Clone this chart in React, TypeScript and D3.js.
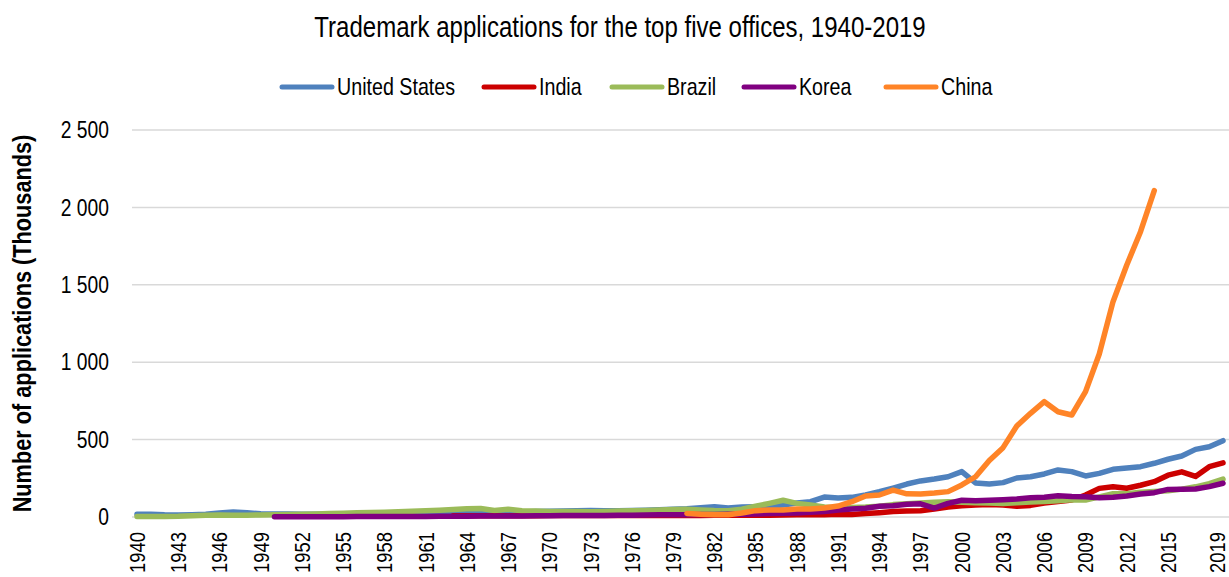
import React from "react";
import * as d3 from "d3";

// years on the category axis
const years = d3.range(1940, 2020);

// trademark applications, thousands (null = no data)
const unitedStates = [
  18, 17, 14, 13, 15, 18, 26, 32, 27, 21,
  20, 19, 18, 17, 18, 19, 20, 20, 21, 22,
  22, 23, 24, 25, 26, 28, 30, 32, 33, 35,
  37, 38, 40, 42, 41, 40, 42, 44, 47, 50,
  54, 60, 67, 58, 64, 67, 71, 78, 90, 99,
  129, 122, 127, 142, 163, 187, 213, 233, 245, 260,
  293, 220, 213, 222, 252, 260, 278, 304, 293, 265,
  282, 308, 316, 325, 347, 373, 394, 437, 454, 493,
];

const india = [
  null, null, null, null, null, null, null, null, null, null,
  null, null, null, null, null, null, null, null, null, null,
  null, null, null, 8, 8, 8, 8, 8, 8, 8,
  9, 9, 9, 9, 9, 9, 10, 10, 10, 10,
  10, 10, 11, 11, 11, 12, 12, 13, 14, 14,
  15, 17, 16, 22, 28, 35, 39, 41, 52, 65,
  72, 78, 80, 77, 70, 75, 90, 100, 110, 142,
  185, 196, 186, 205, 228, 270, 292, 262, 325, 350,
];

const brazil = [
  3, 3, 4, 5, 8, 11, 13, 12, 12, 13,
  15, 16, 18, 20, 22, 25, 27, 29, 31, 34,
  37, 40, 44, 48, 53, 55, 42, 50, 40, 38,
  36, 35, 35, 34, 36, 38, 40, 42, 45, 48,
  50, 46, 42, 40, 50, 70, 88, 108, 88, 78,
  65, 60, 62, 65, 70, 80, 85, 90, 95, 98,
  95, 92, 90, 88, 92, 97, 100, 105, 112, 110,
  130, 150, 150, 160, 165, 170, 180, 195, 215, 245,
];

const korea = [
  null, null, null, null, null, null, null, null, null, null,
  1, 1, 1, 2, 2, 2, 3, 3, 3, 4,
  4, 4, 5, 5, 5, 6, 6, 7, 7, 8,
  8, 9, 9, 10, 10, 11, 12, 13, 14, 15,
  15, 16, 16, 17, 18, 20, 22, 24, 26, 30,
  35, 45, 52, 57, 70, 72, 82, 85, 58, 88,
  108, 105, 108, 112, 117, 124, 128, 137, 132, 131,
  124, 128, 136, 148, 157, 178, 180, 181, 196, 218,
];

const china = [
  null, null, null, null, null, null, null, null, null, null,
  null, null, null, null, null, null, null, null, null, null,
  null, null, null, null, null, null, null, null, null, null,
  null, null, null, null, null, null, null, null, null, null,
  23, 17, 14, 14, 26, 41, 45, 45, 52, 52,
  58, 71, 99, 136, 142, 174, 150, 148, 155, 164,
  207, 260, 365, 448, 588, 670, 745, 680, 659, 810,
  1053, 1391, 1628, 1843, 2108, null, null, null, null, null,
];

const seriesNames = ["United States", "India", "Brazil", "Korea", "China"];
const seriesColors = ["#4F81BD", "#CC0000", "#9BBB59", "#800080", "#FF8427"];
const seriesValues = [unitedStates, india, brazil, korea, china];

const yTicks = [0, 500, 1000, 1500, 2000, 2500];
const xTickYears = [
  1940, 1943, 1946, 1949, 1952, 1955, 1958, 1961, 1964, 1967, 1970, 1973, 1976,
  1979, 1982, 1985, 1988, 1991, 1994, 1997, 2000, 2003, 2006, 2009, 2012, 2015,
  2019,
];

const W = 1229;
const H = 577;
// Arial-metric font squeezed horizontally to look like Arial Narrow
const FONT = "'Liberation Sans', Arial, sans-serif";
const NARROW = 0.82;

const x = d3.scaleLinear().domain([1940, 2019]).range([137, 1223]);
const y = d3.scaleLinear().domain([0, 2500]).range([517, 130]);

const fmt = d3.formatLocale({
  decimal: ".",
  thousands: " ",
  grouping: [3],
  currency: ["", ""],
}).format(",");

const line = d3
  .line<number | null>()
  .defined((v) => v != null)
  .x((_, i) => x(years[i]))
  .y((v) => y(v as number));

const legendX = [280, 482, 610, 742, 884];

function NText(props: {
  x: number;
  y: number;
  rotate?: number;
  size: number;
  anchor?: string;
  bold?: boolean;
  children: React.ReactNode;
}) {
  const { x: tx, y: ty, rotate = 0, size, anchor = "start", bold, children } = props;
  return (
    <text
      transform={`translate(${tx},${ty}) rotate(${rotate}) scale(${NARROW},1)`}
      dy="0.35em"
      textAnchor={anchor}
      fontSize={size}
      fontWeight={bold ? "bold" : "normal"}
      fill="#000"
    >
      {children}
    </text>
  );
}

export default function App() {
  return (
    <div style={{ position: "fixed", left: 0, top: 0 }}>
      <svg width={W} height={H} style={{ display: "block", background: "#fff" }} fontFamily={FONT}>
        <NText x={620} y={27} size={29.3} anchor="middle">
          Trademark applications for the top five offices, 1940-2019
        </NText>

        {seriesNames.map((name, i) => (
          <g key={name}>
            <line
              x1={legendX[i] + 2}
              x2={legendX[i] + 52}
              y1={87}
              y2={87}
              stroke={seriesColors[i]}
              strokeWidth={5}
              strokeLinecap="round"
            />
            <NText x={legendX[i] + 57} y={87} size={24}>
              {name}
            </NText>
          </g>
        ))}

        {yTicks.map((t) => (
          <g key={t}>
            <line x1={132} x2={W} y1={y(t)} y2={y(t)} stroke="#D9D9D9" strokeWidth={1.5} />
            <NText x={109} y={y(t)} size={23.5} anchor="end">
              {fmt(t)}
            </NText>
          </g>
        ))}

        <NText x={22} y={(y(0) + y(2500)) / 2} rotate={-90} size={26.5} anchor="middle" bold>
          Number of applications (Thousands)
        </NText>

        {xTickYears.map((yr) => (
          <NText key={yr} x={Math.min(x(yr), W - 12)} y={532} rotate={-90} size={22.5} anchor="end">
            {yr}
          </NText>
        ))}

        {seriesValues.map((vals, i) => (
          <path
            key={seriesNames[i]}
            d={line(vals) || ""}
            fill="none"
            stroke={seriesColors[i]}
            strokeWidth={5.5}
            strokeLinejoin="round"
            strokeLinecap="round"
          />
        ))}
      </svg>
    </div>
  );
}
